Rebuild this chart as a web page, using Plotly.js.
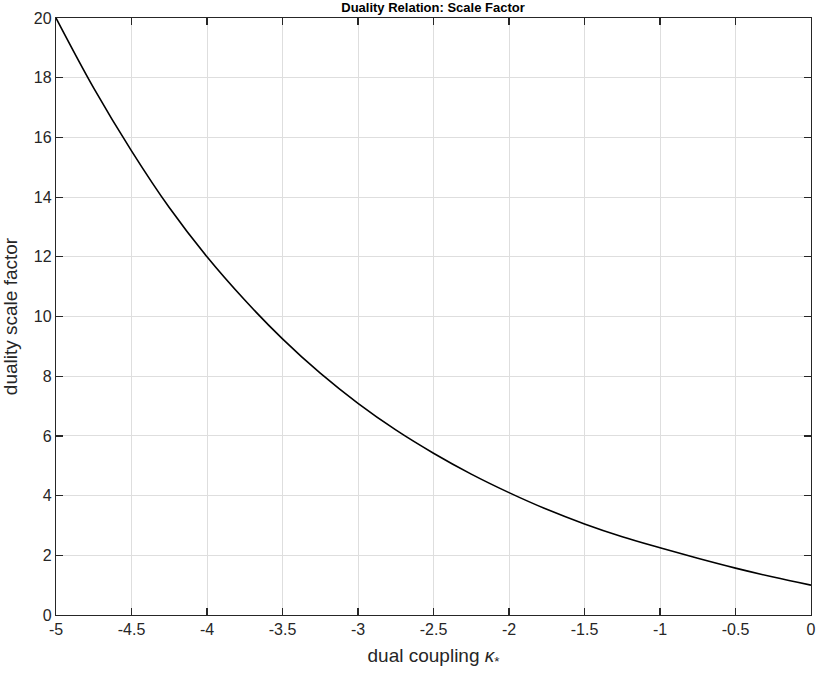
<!DOCTYPE html>
<html>
<head>
<meta charset="utf-8">
<script src="https://cdn.plot.ly/plotly-3.0.1.min.js"></script>
<style>
  html, body { margin: 0; padding: 0; background: #fff; }
  #chart { width: 817px; height: 675px; }
</style>
</head>
<body>
<div id="chart"></div>
<script>
// dual coupling kappa_* vs duality scale factor
var kappa = [-5, -4.75, -4.5, -4.25, -4, -3.75, -3.5, -3.25, -3, -2.75, -2.5,
             -2.25, -2, -1.75, -1.5, -1.25, -1, -0.75, -0.5, -0.25, 0];
var scaleFactor = [20, 17.65, 15.55, 13.65, 12.0, 10.55, 9.25, 8.1, 7.09, 6.2, 5.42,
                   4.72, 4.10, 3.54, 3.05, 2.62, 2.25, 1.9, 1.57, 1.27, 1.0];
var xTicks = [-5, -4.5, -4, -3.5, -3, -2.5, -2, -1.5, -1, -0.5, 0];
var yTicks = [0, 2, 4, 6, 8, 10, 12, 14, 16, 18, 20];

var FONT = 'Liberation Sans, Arial, Helvetica, sans-serif';
var AXIS_COLOR = '#262626';

var trace = {
    x: kappa,
    y: scaleFactor,
    type: 'scatter',
    mode: 'lines',
    line: { color: '#000000', width: 1.6, shape: 'spline', smoothing: 1 },
    hoverinfo: 'x+y'
};

var axisCommon = {
    showline: true,
    linecolor: AXIS_COLOR,
    linewidth: 1.2,
    mirror: 'ticks',
    ticks: 'inside',
    ticklen: 7,
    tickwidth: 1.2,
    tickcolor: AXIS_COLOR,
    showgrid: true,
    gridcolor: '#dedede',
    gridwidth: 1,
    zeroline: false,
    tickfont: { family: FONT, size: 16, color: AXIS_COLOR }
};

var layout = {
    width: 817,
    height: 675,
    paper_bgcolor: '#ffffff',
    plot_bgcolor: '#ffffff',
    showlegend: false,
    margin: { l: 56, r: 6, t: 18, b: 60 },
    font: { family: FONT, color: AXIS_COLOR },
    title: {
        text: '<b>Duality Relation: Scale Factor</b>',
        font: { family: FONT, size: 13, color: '#000000' },
        x: 0.53, xanchor: 'center',
        y: 0.989, yanchor: 'middle'
    },
    xaxis: Object.assign({}, axisCommon, {
        range: [-5, 0],
        tickvals: xTicks,
        ticktext: xTicks.map(String),
        title: {
            text: 'dual coupling <i>κ</i><sub>*</sub>',
            font: { family: FONT, size: 19, color: AXIS_COLOR },
            standoff: 11
        }
    }),
    yaxis: Object.assign({}, axisCommon, {
        range: [0, 20],
        tickvals: yTicks,
        ticktext: yTicks.map(String),
        title: {
            text: 'duality scale factor',
            font: { family: FONT, size: 19, color: AXIS_COLOR },
            standoff: 11
        }
    })
};

Plotly.newPlot('chart', [trace], layout, { displayModeBar: false, staticPlot: true });
</script>
</body>
</html>
